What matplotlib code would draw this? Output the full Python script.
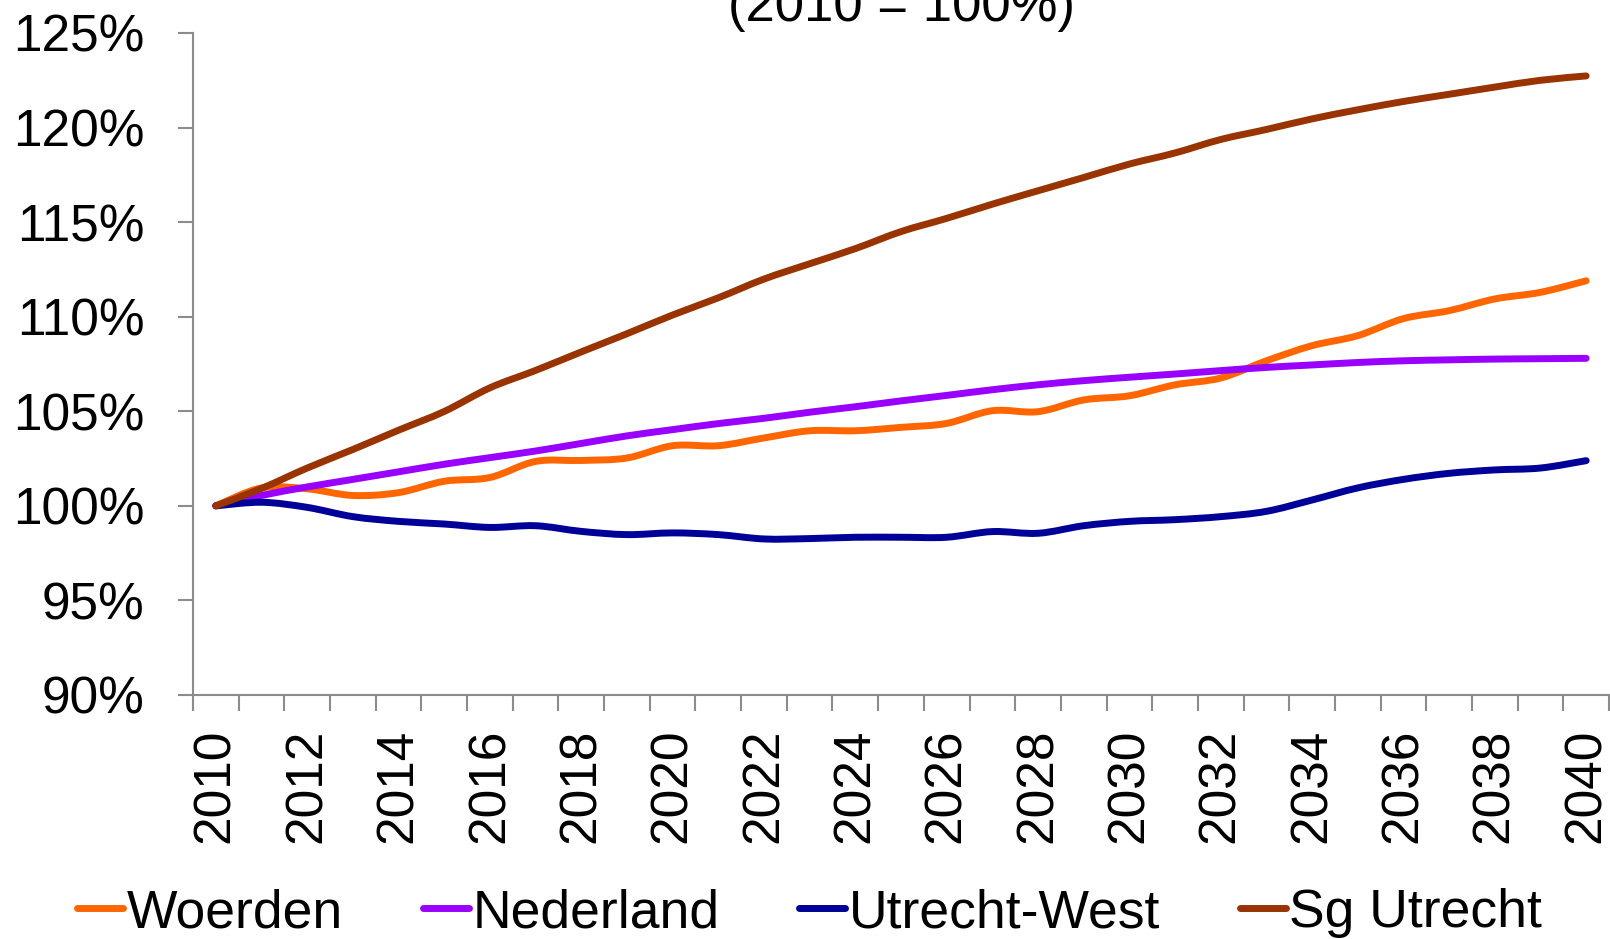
import matplotlib
matplotlib.use("Agg")
import matplotlib.pyplot as plt
from matplotlib.path import Path
from matplotlib.patches import PathPatch
from matplotlib.lines import Line2D
import numpy as np

plt.rcParams['font.family'] = ['Liberation Sans', 'DejaVu Sans']

years = list(range(2010, 2041))

woerden = [100.0, 100.95, 100.9, 100.55, 100.7, 101.3, 101.5, 102.35, 102.4, 102.53,
           103.18, 103.18, 103.59, 103.97, 103.97, 104.15, 104.36, 105.03, 104.98, 105.6,
           105.82, 106.4, 106.76, 107.67, 108.47, 109.0, 109.9, 110.32, 110.94, 111.29, 111.9]

nederland = [100.0, 100.55, 101.0, 101.4, 101.8, 102.2, 102.55, 102.9, 103.3, 103.7,
             104.03, 104.35, 104.63, 104.95, 105.24, 105.55, 105.84, 106.14, 106.4, 106.62,
             106.8, 106.97, 107.15, 107.32, 107.45, 107.58, 107.67, 107.72, 107.76, 107.78, 107.8]

utrecht_west = [100.0, 100.19, 99.92, 99.43, 99.18, 99.04, 98.86, 98.95, 98.65, 98.48,
                98.57, 98.48, 98.25, 98.27, 98.34, 98.34, 98.34, 98.64, 98.55, 98.95,
                99.18, 99.27, 99.43, 99.71, 100.31, 100.95, 101.4, 101.72, 101.9, 102.0, 102.39]

sg_utrecht = [100.0, 100.92, 102.0, 102.98, 104.0, 104.99, 106.24, 107.16, 108.14, 109.1,
              110.09, 111.0, 111.99, 112.8, 113.6, 114.5, 115.2, 115.95, 116.66, 117.36,
              118.07, 118.66, 119.37, 119.9, 120.46, 120.94, 121.38, 121.76, 122.14, 122.5, 122.73]

series_names = ["Woerden", "Nederland", "Utrecht-West", "Sg Utrecht"]
series_colors = ["#FF6600", "#9900FF", "#000099", "#993300"]
series_values = [woerden, nederland, utrecht_west, sg_utrecht]

y_ticks = [90, 95, 100, 105, 110, 115, 120, 125]
x_label_years = list(range(2010, 2041, 2))
title_text = "(2010 = 100%)"


def smooth_path(xs, ys):
    """Smoothed line through the data points (like a spreadsheet 'smoothed line')."""
    p = np.column_stack([np.asarray(xs, float), np.asarray(ys, float)])
    n = len(p)
    verts = [p[0]]
    codes = [Path.MOVETO]
    for i in range(n - 1):
        p0 = p[i - 1] if i > 0 else p[i]
        p1 = p[i]
        p2 = p[i + 1]
        p3 = p[i + 2] if i + 2 < n else p[i + 1]
        c1 = p1 + (p2 - p0) / 6.0
        c2 = p2 - (p3 - p1) / 6.0
        verts += [c1, c2, p2]
        codes += [Path.CURVE4] * 3
    return Path(verts, codes)


W, H = 1610, 939
fig = plt.figure(figsize=(W / 100, H / 100), dpi=100)
ax = fig.add_axes([193 / W, 1 - 695 / H, (1609 - 193) / W, (695 - 33) / H])

handles = []
for name, col, vals in zip(series_names, series_colors, series_values):
    patch = PathPatch(smooth_path(years, vals), facecolor='none', edgecolor=col,
                      lw=5, capstyle='round', joinstyle='round')
    ax.add_patch(patch)
    handles.append(Line2D([], [], color=col, lw=5, solid_capstyle='round', label=name))

ax.set_ylim(90, 125)
ax.set_xlim(2009.5, 2040.5)
ax.set_yticks(y_ticks)
ax.set_yticklabels([f"{v}%" for v in y_ticks], fontsize=37)
ax.set_xticks(x_label_years)
ax.set_xticklabels([str(y) for y in x_label_years], rotation=90, fontsize=37)
ax.set_xticks(np.arange(2009.5, 2041, 1.0), minor=True)

for s in ['top', 'right']:
    ax.spines[s].set_visible(False)
for s in ['left', 'bottom']:
    ax.spines[s].set_color('#8C8C8C')
    ax.spines[s].set_linewidth(1.5)

ax.tick_params(axis='y', which='major', length=11, width=1.5, color='#8C8C8C', pad=24)
ax.tick_params(axis='x', which='major', length=0, pad=24)
ax.tick_params(axis='x', which='minor', length=11.5, width=1.5, color='#8C8C8C')

fig.text(901 / W, 1 - 21 / H, title_text, ha='center', va='baseline', fontsize=38)

fig.legend(handles=handles, loc='center', bbox_to_anchor=(0.503, 1 - 913 / H), ncol=4,
           frameon=False, fontsize=38.5, handlelength=0.86, handletextpad=0.06,
           columnspacing=1.5, borderaxespad=0, borderpad=0)

fig.savefig("out.png", dpi=100)
